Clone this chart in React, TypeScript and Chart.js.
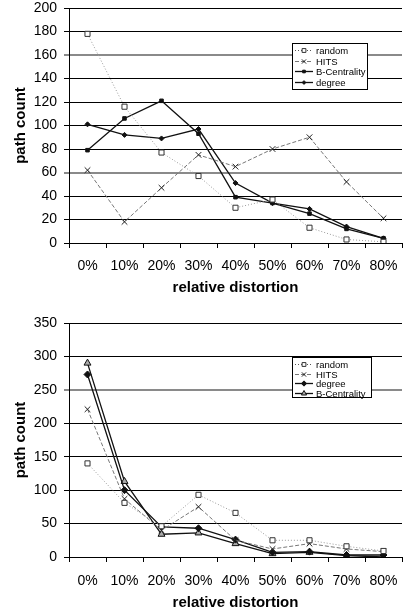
import React, { useEffect, useRef } from 'react';
import { Chart, registerables } from 'chart.js';
import { drawPoint } from 'chart.js/helpers';

Chart.register(...registerables);

const categories = ['0%', '10%', '20%', '30%', '40%', '50%', '60%', '70%', '80%'];

const topRandom = [178, 116, 77, 57, 30, 37, 13, 3, 1];
const topHits = [62, 18, 47, 75, 65, 80, 90, 52, 21];
const topBCentrality = [79, 106, 121, 93, 39, 34, 25, 12, 4];
const topDegree = [101, 92, 89, 97, 51, 34, 29, 14, 4];

const bottomRandom = [140, 81, 46, 93, 66, 25, 25, 16, 9];
const bottomHits = [221, 87, 40, 75, 25, 12, 20, 12, 8];
const bottomDegree = [273, 100, 45, 43, 26, 7, 8, 3, 3];
const bottomBCentrality = [290, 113, 34, 36, 20, 5, 7, 2, 0];

const topYMax = 200;
const topYStep = 20;
const bottomYMax = 350;
const bottomYStep = 50;

const FONT = "'Liberation Sans', Arial, sans-serif";

const boxLegend = {
  id: 'boxLegend',
  afterDraw(chart: any, _args: any, opts: any) {
    const ctx = chart.ctx;
    const { x, y, w, h, firstRow, rowStep, lineStart, lineEnd, textX, fontSize } = opts;
    ctx.save();
    ctx.fillStyle = '#fff';
    ctx.fillRect(x, y, w, h);
    ctx.strokeStyle = '#000';
    ctx.lineWidth = 1;
    ctx.strokeRect(x + 0.5, y + 0.5, w, h);
    chart.data.datasets.forEach((ds: any, i: number) => {
      const cy = Math.round(firstRow + i * rowStep);
      ctx.beginPath();
      ctx.setLineDash(ds.borderDash || []);
      ctx.strokeStyle = ds.borderColor === '#9a9a9a' ? '#555' : ds.borderColor;
      ctx.lineWidth = ds.borderWidth;
      ctx.moveTo(lineStart, cy + 0.5);
      ctx.lineTo(lineEnd, cy + 0.5);
      ctx.stroke();
      ctx.setLineDash([]);
      ctx.fillStyle = ds.pointBackgroundColor;
      ctx.strokeStyle = ds.pointBorderColor;
      ctx.lineWidth = ds.pointBorderWidth;
      drawPoint(
        ctx,
        { pointStyle: ds.pointStyle, radius: ds.pointRadius * 0.75, rotation: 0, borderWidth: ds.pointBorderWidth } as any,
        (lineStart + lineEnd) / 2,
        cy + 0.5
      );
      ctx.fillStyle = '#000';
      ctx.font = `${fontSize}px ${FONT}`;
      ctx.textBaseline = 'middle';
      ctx.textAlign = 'left';
      ctx.fillText(ds.label, textX, cy + 1);
    });
    ctx.restore();
  },
};

function ds(label: string, data: number[], kind: string) {
  const base: any = {
    label,
    data,
    fill: false,
    tension: 0,
    pointBorderWidth: 1,
  };
  switch (kind) {
    case 'random':
      return {
        ...base,
        borderColor: '#9a9a9a',
        borderWidth: 1,
        borderDash: [1, 2],
        pointStyle: 'rect',
        pointRadius: 3.6,
        pointBackgroundColor: '#fff',
        pointBorderColor: '#333',
      };
    case 'hits':
      return {
        ...base,
        borderColor: '#777',
        borderWidth: 1,
        borderDash: [4, 2],
        pointStyle: 'crossRot',
        pointRadius: 4,
        pointBackgroundColor: '#222',
        pointBorderColor: '#222',
      };
    case 'bcSquare':
      return {
        ...base,
        borderColor: '#111',
        borderWidth: 1.3,
        pointStyle: 'rect',
        pointRadius: 2.5,
        pointBackgroundColor: '#111',
        pointBorderColor: '#111',
      };
    case 'degSmall':
      return {
        ...base,
        borderColor: '#111',
        borderWidth: 1.3,
        pointStyle: 'rectRot',
        pointRadius: 2.5,
        pointBackgroundColor: '#111',
        pointBorderColor: '#111',
      };
    case 'degBig':
      return {
        ...base,
        borderColor: '#111',
        borderWidth: 1.3,
        pointStyle: 'rectRot',
        pointRadius: 3.5,
        pointBackgroundColor: '#111',
        pointBorderColor: '#111',
      };
    default:
      return {
        ...base,
        borderColor: '#111',
        borderWidth: 1.3,
        pointStyle: 'triangle',
        pointRadius: 4,
        pointBackgroundColor: '#aaa',
        pointBorderColor: '#111',
      };
  }
}

function makeOptions(cfg: any) {
  const { yMax, yStep, grayVals, top, bottom, labelPad, titlePadBottom, legend } = cfg;
  return {
    responsive: false,
    animation: false,
    events: [],
    layout: { padding: { top, left: 0, right: 0, bottom: 0 } },
    plugins: {
      legend: { display: false },
      tooltip: { enabled: false },
      boxLegend: legend,
    },
    scales: {
      x: {
        type: 'category',
        offset: true,
        afterFit: (s: any) => {
          s.height = bottom;
          s.paddingLeft = 0;
          s.paddingRight = 0;
        },
        grid: {
          offset: true,
          drawOnChartArea: false,
          drawTicks: true,
          tickLength: 5,
          color: '#000',
          lineWidth: 1,
        },
        border: { display: true, color: '#000', width: 1 },
        ticks: {
          color: '#000',
          font: { family: FONT, size: 14 },
          padding: labelPad,
          maxRotation: 0,
          autoSkip: false,
        },
        title: {
          display: true,
          text: 'relative distortion',
          color: '#000',
          font: { family: FONT, size: 15, weight: 'bold' },
          padding: { top: 0, bottom: titlePadBottom },
        },
      },
      y: {
        min: 0,
        max: yMax,
        afterFit: (s: any) => {
          s.width = 69;
          s.paddingTop = 0;
          s.paddingBottom = 0;
        },
        grid: {
          drawTicks: true,
          tickLength: 5,
          color: (c: any) => (c.tick && grayVals.includes(c.tick.value) ? '#8a8a8a' : '#000'),
          lineWidth: (c: any) => (c.tick && grayVals.includes(c.tick.value) ? 2 : 1),
        },
        border: { display: true, color: '#000', width: 1 },
        ticks: {
          stepSize: yStep,
          color: '#000',
          font: { family: FONT, size: 14 },
          padding: 7,
        },
        title: {
          display: true,
          text: 'path count',
          color: '#000',
          font: { family: FONT, size: 15, weight: 'bold' },
          padding: { top: 12, bottom: 0 },
        },
      },
    },
  };
}

function LineChart(props: { datasets: any[]; options: any; width: number; height: number }) {
  const ref = useRef<HTMLCanvasElement | null>(null);
  useEffect(() => {
    if (!ref.current) return;
    const chart = new Chart(ref.current, {
      type: 'line',
      data: { labels: categories, datasets: props.datasets },
      options: props.options,
      plugins: [boxLegend],
    } as any);
    return () => chart.destroy();
  }, []);
  return (
    <canvas
      ref={ref}
      width={props.width}
      height={props.height}
      style={{ display: 'block', width: props.width, height: props.height }}
    />
  );
}

export default function App() {
  const topDatasets = [
    ds('random', topRandom, 'random'),
    ds('HITS', topHits, 'hits'),
    ds('B-Centrality', topBCentrality, 'bcSquare'),
    ds('degree', topDegree, 'degSmall'),
  ];
  const bottomDatasets = [
    ds('random', bottomRandom, 'random'),
    ds('HITS', bottomHits, 'hits'),
    ds('degree', bottomDegree, 'degBig'),
    ds('B-Centrality', bottomBCentrality, 'triangle'),
  ];
  const topOptions = makeOptions({
    yMax: topYMax,
    yStep: topYStep,
    grayVals: [160, 60],
    top: 8,
    bottom: 57,
    labelPad: 10,
    titlePadBottom: 3,
    legend: {
      x: 292, y: 43, w: 75, h: 46,
      firstRow: 50, rowStep: 10.5,
      lineStart: 295, lineEnd: 313, textX: 316, fontSize: 9.5,
    },
  });
  const bottomOptions = makeOptions({
    yMax: bottomYMax,
    yStep: bottomYStep,
    grayVals: [250],
    top: 23,
    bottom: 56,
    labelPad: 11,
    titlePadBottom: 1,
    legend: {
      x: 292, y: 57, w: 79, h: 40,
      firstRow: 64, rowStep: 9.7,
      lineStart: 295, lineEnd: 313, textX: 316, fontSize: 9.5,
    },
  });
  return (
    <div style={{ position: 'absolute', left: 0, top: 0, width: 407, height: 613, background: '#fff' }}>
      <div style={{ position: 'absolute', left: 0, top: 0 }}>
        <LineChart datasets={topDatasets} options={topOptions} width={407} height={300} />
      </div>
      <div style={{ position: 'absolute', left: 0, top: 300 }}>
        <LineChart datasets={bottomDatasets} options={bottomOptions} width={407} height={313} />
      </div>
    </div>
  );
}
